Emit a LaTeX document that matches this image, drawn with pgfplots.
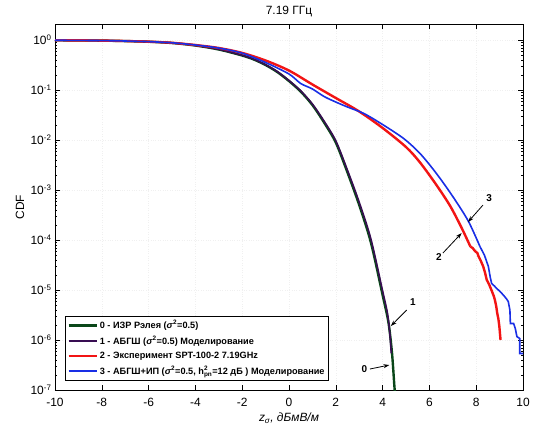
\documentclass[border=0pt]{standalone}
\usepackage{fontspec}
\setmainfont{Liberation Sans}
\usepackage{amsmath}
\usepackage{pgfplots}
\pgfplotsset{compat=1.18}
\usetikzlibrary{arrows.meta}
\definecolor{cgreen}{rgb}{0.04,0.28,0.10}
\definecolor{cpurple}{rgb}{0.22,0.05,0.32}
\definecolor{cred}{rgb}{0.95,0.08,0.08}
\definecolor{cblue}{rgb}{0.10,0.18,0.90}

\begin{document}
\begin{tikzpicture}
\begin{semilogyaxis}[
  at={(0,0)}, anchor=south west,
  scale only axis, width=468bp, height=366bp,
  xmin=-10, xmax=10, ymin=1e-7, ymax=2.09,
  xtick={-10,-8,-6,-4,-2,0,2,4,6,8,10},
  xticklabels={-10,-8,-6,-4,-2,0,2,4,6,8,10},
  ytick={1e-7,1e-6,1e-5,1e-4,1e-3,1e-2,1e-1,1},
  yticklabels={10\textsuperscript{-7},10\textsuperscript{-6},10\textsuperscript{-5},10\textsuperscript{-4},
               10\textsuperscript{-3},10\textsuperscript{-2},10\textsuperscript{-1},10\textsuperscript{0}},
  tick align=inside, major tick length=5bp, minor tick length=2.5bp,
  every tick/.style={black, line width=0.5bp},
  ticklabel style={font=\fontsize{12}{14}\selectfont},
  xticklabel style={yshift=-5bp},
  axis line style={line width=0.8bp},
  grid=major, major grid style={gray!12, dotted},
  every axis title shift=0pt,
  title={7.19 ГГц},
  title style={font=\fontsize{12}{14}\selectfont, at={(axis description cs:0.5,1.033)}, anchor=center},
  xlabel={\itshape z\textsubscript{σ}, дБмВ/м},
  xlabel style={font=\fontsize{12}{14}\selectfont, at={(axis description cs:0.5,-0.077)}, anchor=center},
  ylabel={CDF},
  ylabel style={font=\fontsize{12}{14}\selectfont, at={(axis description cs:-0.075,0.5)}, anchor=center},
  legend style={at={(axis description cs:0.021,0.025)}, anchor=south west, draw=black,
    line width=0.8bp, font=\fontsize{9.2}{11}\selectfont\bfseries,
    inner xsep=2bp, inner ysep=2.5bp, row sep=2bp},
  legend cell align=left,
  legend image code/.code={\draw[#1, line width=2.6bp] (0bp,0bp) -- (28bp,0bp);},
]
% 0 - Rayleigh
\addplot[cgreen, line width=2.4bp, smooth] coordinates {
 (-10,0.989)(-9,0.982)(-8,0.973)(-7,0.952)(-6,0.923)(-5,0.871)(-4,0.776)(-3,0.646)
 (-2,0.490)(-1.5,0.407)(-1,0.316)(-0.5,0.229)(0,0.151)(0.5,0.0933)(1,0.0501)
 (1.5,0.0224)(2,0.00891)(2.5,0.00224)(3,5.01e-4)(3.5,8.91e-5)(4,7.94e-6)
 (4.25,2.24e-6)(4.4,5.62e-7)(4.5,1.26e-7)(4.55,6.31e-8)};
\addlegendentry{0 - ИЗР Рэлея (\textit{σ}\textsuperscript{2}=0.5)}
% 1 - AWGN model
\addplot[cpurple, line width=1.6bp, smooth] coordinates {
 (-10,0.989)(-9,0.982)(-8,0.973)(-7,0.953)(-6,0.924)(-5,0.873)(-4,0.779)(-3,0.650)
 (-2,0.495)(-1.5,0.412)(-1,0.321)(-0.5,0.234)(0,0.155)(0.5,0.0965)(1,0.0525)
 (1.5,0.0238)(2,0.00965)(2.5,0.00248)(3,5.7e-4)(3.5,1.05e-4)(4,9.6e-6)
 (4.2,3.6e-6)(4.3,1.5e-6)(4.37,5.4e-7)};
\addlegendentry{1 - АБГШ (\textit{σ}\textsuperscript{2}=0.5) Моделирование}
% 2 - experiment
\addplot[cred, line width=2.4bp, smooth] coordinates {
 (-10,0.990)(-9,0.983)(-8,0.974)(-7,0.955)(-6,0.927)(-5,0.880)(-4,0.794)(-3,0.692)
 (-2,0.552)(-1,0.389)(0,0.245)(1,0.129)(2,0.0692)(3,0.0372)(4,0.0174)(5,0.00724)
 (5.6,0.00355)(6.3,0.00126)(6.9,4.68e-4)(7.4,1.66e-4)(7.75,7.4e-5)};
\addlegendentry{2 - Эксперимент SPT-100-2 7.19GHz}
\addplot[cred, line width=2.4bp, forget plot] coordinates {
 (7.75,7.4e-5)(7.85,6.9e-5)(7.95,6.0e-5)(8.05,5.5e-5)(8.1,4.7e-5)(8.2,3.8e-5)
 (8.3,2.95e-5)(8.38,2.2e-5)(8.45,1.6e-5)(8.55,1.3e-5)(8.65,1.0e-5)(8.75,7.6e-6)
 (8.8,6.3e-6)(8.86,4.6e-6)(8.9,3.4e-6)(8.95,2.6e-6)(8.99,1.86e-6)(9.04,1.0e-6)};
% 3 - AWGN + pulse noise model
\addplot[cblue, line width=1.6bp, smooth] coordinates {
 (-10,0.990)(-9,0.983)(-8,0.974)(-7,0.955)(-6,0.927)(-5,0.880)(-4,0.794)(-3,0.690)
 (-2,0.545)(-1,0.355)(0,0.209)(0.5,0.135)(1,0.105)(1.5,0.0741)(2,0.0575)(2.5,0.0457)
 (3.2,0.0339)(4,0.0204)(4.9,0.0107)(5.6,0.00537)(6.3,0.00214)(7.0,7.41e-4)
 (7.66,2.4e-4)(8.16,7.41e-5)};
\addlegendentry{3 - АБГШ+ИП (\textit{σ}\textsuperscript{2}=0.5, $\text{h}^{\text{2}}_{\text{pn}}$=12  дБ ) Моделирование}
\addplot[cblue, line width=1.6bp, forget plot] coordinates {
 (8.16,7.41e-5)(8.35,5.0e-5)(8.52,2.95e-5)(8.6,1.8e-5)(8.66,1.35e-5)(8.78,1.2e-5)
 (8.88,1.07e-5)(9.0,9.5e-6)(9.16,7.94e-6)(9.3,6.6e-6)(9.37,5.89e-6)(9.44,3.98e-6)
 (9.46,2.14e-6)(9.6,2.14e-6)(9.67,1.7e-6)(9.74,1.17e-6)(9.86,1.07e-6)(9.86,5.37e-7)
 (10,5.37e-7)};
% curve labels
\draw[-{Stealth[length=6bp,width=4bp]}, line width=0.8bp] (axis cs:5.03,3.98e-6) -- (axis cs:4.35,1.9e-6);
\node[font=\fontsize{10}{12}\selectfont\bfseries] at (axis cs:5.29,5.62e-6) {1};
\draw[-{Stealth[length=6bp,width=4bp]}, line width=0.8bp] (axis cs:3.46,2.63e-7) -- (axis cs:4.29,3.16e-7);
\node[font=\fontsize{10}{12}\selectfont\bfseries] at (axis cs:3.22,2.57e-7) {0};
\draw[-{Stealth[length=6bp,width=4bp]}, line width=0.8bp] (axis cs:6.58,5.5e-5) -- (axis cs:7.38,1.38e-4);
\node[font=\fontsize{10}{12}\selectfont\bfseries] at (axis cs:6.41,4.57e-5) {2};
\draw[-{Stealth[length=6bp,width=4bp]}, line width=0.8bp] (axis cs:8.29,5.0e-4) -- (axis cs:7.65,2.29e-4);
\node[font=\fontsize{10}{12}\selectfont\bfseries] at (axis cs:8.55,6.9e-4) {3};
\end{semilogyaxis}
\pgfresetboundingbox
\useasboundingbox (-55bp,-37bp) rectangle (479bp,390bp);
\end{tikzpicture}
\end{document}
